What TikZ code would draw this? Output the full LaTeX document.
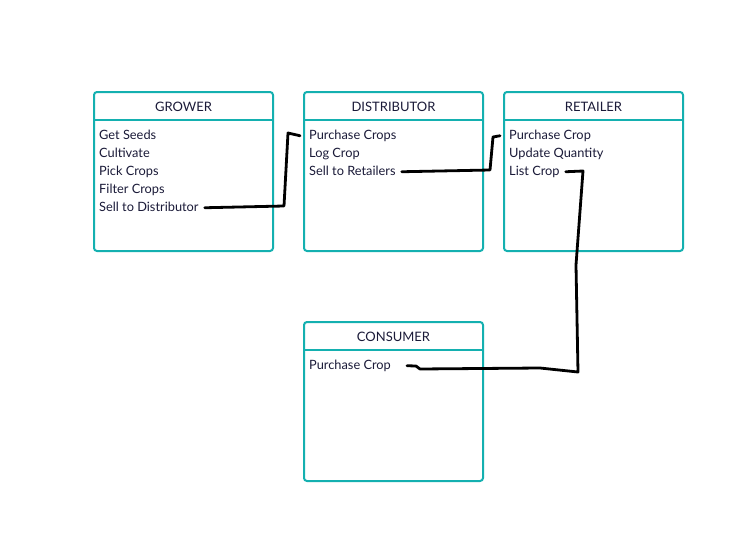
\documentclass[tikz,border=0pt]{standalone}
\usepackage{fontspec}
\setmainfont{Lato}
\definecolor{boxteal}{HTML}{14B0B0}
\definecolor{ink}{HTML}{1A1A38}
\begin{document}
\begin{tikzpicture}[x=1pt,y=-1pt,
  card/.style={draw=boxteal, line width=2pt, rounded corners=3pt},
  head/.style={text=ink, anchor=base, inner sep=0pt, font=\fontsize{13}{15}\selectfont},
  item/.style={text=ink, anchor=base west, inner sep=0pt, text height=9pt, text depth=2.5pt, font=\fontsize{12.8}{15}\selectfont},
  wire/.style={line width=2.8pt, line join=round, line cap=round}]
\useasboundingbox (0,0) rectangle (737,546);

% the four cards
\foreach \x/\y/\title/\id in {94/92/GROWER/grower, 304/92/DISTRIBUTOR/distributor, 504/92/RETAILER/retailer, 304/322/CONSUMER/consumer}{
  \draw[card] (\x,\y) rectangle ++(179,159);
  \draw[card] (\x,\y+28) -- ++(179,0);
  \node[head] (\id) at (\x+89.5,\y+19) {\title};
}

% grower
\node[item] (getSeeds) at (99,139) {Get Seeds};
\node[item] (cultivate) at (99,157) {Cultivate};
\node[item] (pickCrops) at (99,175) {Pick Crops};
\node[item] (filterCrops) at (99,193) {Filter Crops};
\node[item] (sellDist) at (99,211) {Sell to Distributor};

% distributor
\node[item] (buyCrops) at (309,139) {Purchase Crops};
\node[item] (logCrop) at (309,157) {Log Crop};
\node[item] (sellRet) at (309,175) {Sell to Retailers};

% retailer
\node[item] (buyCrop) at (509,139) {Purchase Crop};
\node[item] (updateQty) at (509,157) {Update Quantity};
\node[item] (listCrop) at (509,175) {List Crop};

% consumer
\node[item] (consumerBuy) at (309,369) {Purchase Crop};

% hand drawn links
\draw[wire] ([xshift=6pt]sellDist.east) -- (284,206) -- (288,133) -- ([xshift=-9pt]buyCrops.west);
\draw[wire] ([xshift=6pt]sellRet.east) -- (490,170) -- (493,137) -- ([xshift=-9pt]buyCrop.west);
\draw[wire] ([xshift=6pt]listCrop.east) -- (583,171) -- (576,265) -- (578,372) -- (540,368) -- (420,369) -- (416,366) -- ([xshift=16pt]consumerBuy.east);
\end{tikzpicture}
\end{document}
